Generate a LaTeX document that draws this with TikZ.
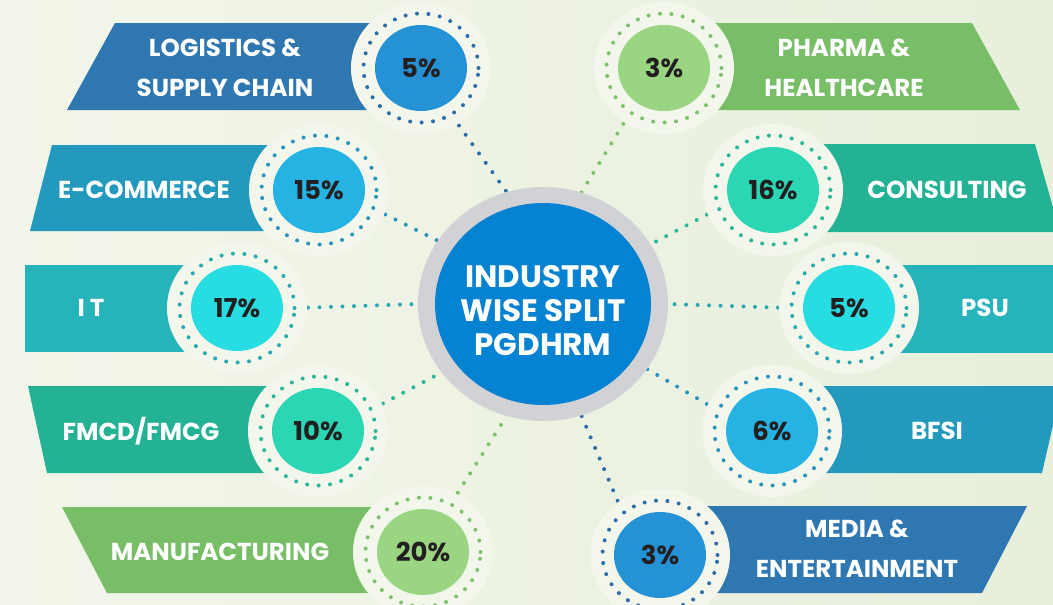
\documentclass[tikz,border=0pt]{standalone}
\usepackage{fontspec}
\setmainfont{Poppins}
\usetikzlibrary{shapes.geometric}
\definecolor{bgA}{HTML}{F2F6EA}
\definecolor{bgB}{HTML}{E8EFDC}
\definecolor{halo}{HTML}{F2F6EB}
\definecolor{pcttext}{HTML}{231F20}
\definecolor{bDb}{HTML}{2E77B1}\definecolor{bDc}{HTML}{2592D5}\definecolor{bDd}{HTML}{2D6DA8}
\definecolor{bMb}{HTML}{2399BE}\definecolor{bMc}{HTML}{25B3E3}\definecolor{bMd}{HTML}{2A93BD}
\definecolor{tlb}{HTML}{26B3BA}\definecolor{tlc}{HTML}{27DDE1}\definecolor{tld}{HTML}{2AA8B2}
\definecolor{tgb}{HTML}{24B294}\definecolor{tgc}{HTML}{2AD6B4}\definecolor{tgd}{HTML}{2BB59A}
\definecolor{grb}{HTML}{78BE66}\definecolor{grc}{HTML}{9AD682}\definecolor{grd}{HTML}{7CC26A}
\definecolor{ringgray}{HTML}{D1D2D6}
\definecolor{ctrblue}{HTML}{0682D2}
\pgfdeclarelayer{bg}\pgfdeclarelayer{conn}\pgfsetlayers{bg,conn,main}
\tikzset{
  lbl/.style={text=white, font=\bfseries\fontsize{24.5}{40}\selectfont, align=center, inner sep=0pt},
  pct/.style={ellipse, minimum width=92pt, minimum height=86pt, inner sep=0pt, text=pcttext, font=\bfseries\fontsize{26}{28}\selectfont},
  dotring/.style={ellipse, minimum width=115pt, minimum height=109pt, inner sep=0pt, line width=4pt, dash pattern=on 0pt off 11.5pt, line cap=round},
  haloshape/.style={ellipse, minimum width=140pt, minimum height=132pt, fill=halo, inner sep=0pt},
  connector/.style={line width=4pt, dash pattern=on 0pt off 11.5pt, line cap=round}
}
\begin{document}
\begin{tikzpicture}[x=1pt,y=-1pt]
\useasboundingbox (0,0) rectangle (1053,605);
\clip (0,0) rectangle (1053,605);
\begin{pgfonlayer}{bg}
\shade[left color=bgA, right color=bgB] (0,0) rectangle (1053,605);
% banners left
\fill[bDb] (115,23) -- (421,23) -- (421,110) -- (67,110) -- cycle;
\fill[bMb] (52,145) -- (319,145) -- (319,231) -- (30,231) -- cycle;
\fill[tlb] (25,265) -- (237,265) -- (237,352) -- (25,352) -- cycle;
\fill[tgb] (28,386) -- (318,386) -- (318,473) -- (47,473) -- cycle;
\fill[grb] (62,507) -- (423,507) -- (423,593) -- (107,593) -- cycle;
% banners right
\fill[grb] (664,23) -- (972,23) -- (1020,110) -- (664,110) -- cycle;
\fill[tgb] (773,144) -- (1035,144) -- (1060,232) -- (773,232) -- cycle;
\fill[tlb] (849,265) -- (1060,265) -- (1060,353) -- (849,353) -- cycle;
\fill[bMb] (772,386) -- (1062,386) -- (1042,473) -- (772,473) -- cycle;
\fill[bDb] (660,506) -- (1027,506) -- (982,593) -- (660,593) -- cycle;
\end{pgfonlayer}

% centre
\node[ellipse, fill=ringgray, minimum width=250pt, minimum height=234pt, inner sep=0pt] (ctr) at (543,304) {};
\node[ellipse, fill=ctrblue, minimum width=216pt, minimum height=202pt, inner sep=0pt] (ctrin) at (543,304) {};
\node[text=white, font=\bfseries\fontsize{31}{34}\selectfont, align=center, inner sep=0pt] (title) at (543,311) {INDUSTRY\\WISE SPLIT\\PGDHRM};

% left items
\node[haloshape] (h1) at (421,68) {};
\node[dotring, draw=bDd] (r1) at (421,68) {};
\node[pct, fill=bDc] (p1) at (421,68) {5\%};
\node[lbl] (t1) at (225,68) {LOGISTICS \&\\SUPPLY CHAIN};

\node[haloshape] (h2) at (319,190) {};
\node[dotring, draw=bMd] (r2) at (319,190) {};
\node[pct, fill=bMc] (p2) at (319,190) {15\%};
\node[lbl] (t2) at (144,190) {E-COMMERCE};

\node[haloshape] (h3) at (237,308) {};
\node[dotring, draw=tld] (r3) at (237,308) {};
\node[pct, fill=tlc] (p3) at (237,308) {17\%};
\node[lbl] (t3) at (91,308) {I T};

\node[haloshape] (h4) at (318,431) {};
\node[dotring, draw=tgd] (r4) at (318,431) {};
\node[pct, fill=tgc] (p4) at (318,431) {10\%};
\node[lbl] (t4) at (141,431) {FMCD/FMCG};

\node[haloshape] (h5) at (423,552) {};
\node[dotring, draw=grd] (r5) at (423,552) {};
\node[pct, fill=grc] (p5) at (423,552) {20\%};
\node[lbl] (t5) at (220,552) {MANUFACTURING};

% right items
\node[haloshape] (h6) at (664,68) {};
\node[dotring, draw=grd] (r6) at (664,68) {};
\node[pct, fill=grc] (p6) at (664,68) {3\%};
\node[lbl] (t6) at (844,68) {PHARMA \&\\HEALTHCARE};

\node[haloshape] (h7) at (773,190) {};
\node[dotring, draw=tgd] (r7) at (773,190) {};
\node[pct, fill=tgc] (p7) at (773,190) {16\%};
\node[lbl] (t7) at (947,190) {CONSULTING};

\node[haloshape] (h8) at (849,308) {};
\node[dotring, draw=tld] (r8) at (849,308) {};
\node[pct, fill=tlc] (p8) at (849,308) {5\%};
\node[lbl] (t8) at (985,308) {PSU};

\node[haloshape] (h9) at (772,431) {};
\node[dotring, draw=bMd] (r9) at (772,431) {};
\node[pct, fill=bMc] (p9) at (772,431) {6\%};
\node[lbl] (t9) at (937,431) {BFSI};

\node[haloshape] (h10) at (660,555) {};
\node[dotring, draw=bDd] (r10) at (660,555) {};
\node[pct, fill=bDc] (p10) at (660,555) {3\%};
\node[lbl] (t10) at (857,549) {MEDIA \&\\ENTERTAINMENT};

\begin{pgfonlayer}{conn}
\draw[connector, draw=bDd] (r1.-57) -- (ctr.108);
\draw[connector, draw=bMd] (r2.-19) -- (ctr.149);
\draw[connector, draw=tld] (r3.0) -- (ctr.180);
\draw[connector, draw=tgd] (r4.22) -- (ctr.-146);
\draw[connector, draw=grd] (r5.60) -- (ctr.-108);
\draw[connector, draw=grd] (r6.-127) -- (ctr.71);
\draw[connector, draw=tgd] (r7.-161) -- (ctr.29);
\draw[connector, draw=tld] (r8.180) -- (ctr.0);
\draw[connector, draw=bMd] (r9.159) -- (ctr.-32);
\draw[connector, draw=bDd] (r10.131) -- (ctr.-71);
\end{pgfonlayer}
\end{tikzpicture}
\end{document}
